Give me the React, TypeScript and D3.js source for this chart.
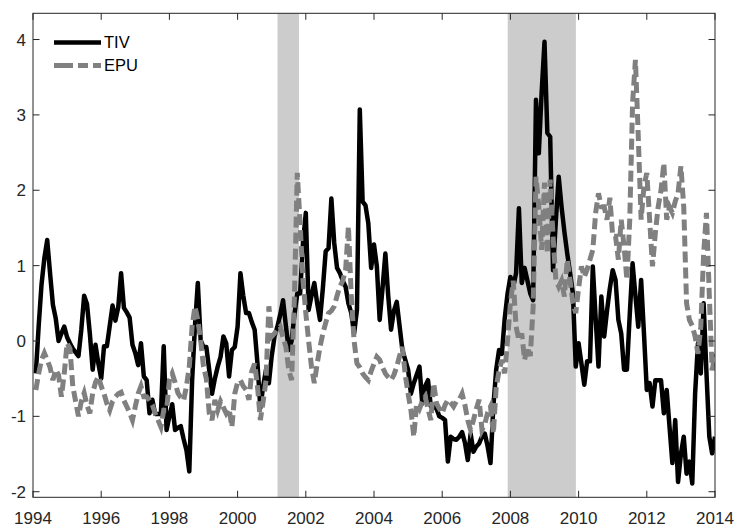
import React from "react";
import * as d3 from "d3";

// monthly observations, Jan 1994 .. Dec 2013 (12 per row)
const tivValues = [
  -0.43, 0.2, 0.75, 1.1, 1.34, 0.9, 0.48, 0.3, 0.0, 0.1, 0.19, 0.05,
  -0.03, -0.1, -0.15, -0.2, 0.15, 0.6, 0.49, 0.1, -0.38, -0.05, -0.3, -0.5,
  -0.07, -0.07, 0.2, 0.47, 0.27, 0.45, 0.9, 0.44, 0.38, 0.31, -0.05, -0.16,
  -0.32, -0.03, -0.47, -0.52, -0.96, -0.78, -0.97, -0.97, -0.97, -0.07, -1.18, -1.0,
  -0.84, -1.18, -1.15, -1.13, -1.3, -1.45, -1.73, -0.52, 0.2, 0.77, 0.01, -0.08,
  -0.08, -0.38, -0.7, -0.5, -0.34, -0.21, 0.06, -0.03, -0.47, -0.12, -0.08, 0.19,
  0.9, 0.6, 0.37, 0.37, 0.25, 0.15, -0.3, -0.89, -0.6, -0.38, -0.56, -0.2,
  0.06, 0.19, 0.35, 0.54, 0.2, -0.12, 0.0, 0.35, 0.63, 0.63, 1.3, 1.7,
  0.41, 0.6, 0.77, 0.5, 0.28, 0.7, 1.19, 1.23, 1.89, 1.3, 0.97, 0.9,
  0.8, 0.72, 0.5, 0.37, 0.1, 0.41, 3.07, 1.85, 1.8, 1.56, 0.97, 1.28,
  0.99, 0.28, 0.7, 1.16, 0.6, 0.15, 0.4, 0.52, 0.2, -0.12, -0.25, -0.38,
  -0.7, -0.56, -0.45, -0.34, -0.83, -0.6, -0.52, -0.87, -0.87, -0.9, -1.0, -1.02,
  -1.05, -1.6, -1.27, -1.3, -1.31, -1.27, -1.21, -1.35, -1.58, -1.23, -1.47, -1.4,
  -1.36, -1.27, -1.23, -1.4, -1.62, -0.87, -0.38, -0.12, -0.17, 0.3, 0.63, 0.85,
  0.72, 0.9, 1.76, 0.77, 0.97, 0.8, 0.63, 0.54, 3.2, 2.49, 3.3, 3.97,
  2.76, 2.71, 0.94, 1.6, 2.18, 1.78, 1.45, 1.16, 0.9, 0.63, -0.34, -0.03,
  -0.3, -0.58, -0.27, -0.27, 0.99, 0.3, -0.34, 0.59, 0.06, 0.4, 0.7, 0.94,
  0.81, 0.28, 0.1, -0.38, -0.38, 0.35, 1.03, 0.6, 0.19, 0.81, 0.1, -0.65,
  -0.56, -0.87, -0.52, -0.52, -0.52, -0.96, -0.65, -1.14, -1.62, -1.05, -1.87, -1.5,
  -1.27, -1.76, -1.6, -1.89, -0.7, -0.03, -0.43, 0.5, -0.43, -1.27, -1.49, -1.27,
];

const epuValues = [
  -0.65, -0.43, -0.25, -0.16, -0.25, -0.35, -0.52, -0.38, -0.45, -0.74, -0.43, -0.03,
  -0.1, -0.6, -0.8, -1.0, -0.8, -0.69, -0.85, -0.96, -0.69, -0.55, -0.47, -0.6,
  -0.7, -0.83, -0.92, -0.8, -0.74, -0.7, -0.68, -0.79, -0.87, -0.95, -1.05, -0.87,
  -0.7, -0.6, -0.74, -0.74, -0.79, -0.85, -0.96, -1.05, -1.14, -0.92, -0.92, -0.52,
  -0.43, -0.55, -0.69, -0.75, -0.79, -0.6, -0.34, 0.2, 0.46, 0.28, 0.01, -0.34,
  -0.5, -0.95, -1.05, -0.78, -0.92, -0.8, -0.88, -0.96, -0.9, -1.14, -0.7, -0.55,
  -0.52, -0.6, -0.65, -0.78, -0.4, -0.3, -0.6, -1.05, -0.8, -0.52, 0.46, 0.06,
  0.1, 0.15, 0.19, 0.05, -0.08, -0.38, -0.52, 0.59, 2.23, 1.56, 0.81, 0.37,
  0.0, -0.34, -0.56, -0.3, -0.08, 0.1, 0.24, 0.37, 0.4, 0.46, 0.6, 0.72,
  0.8, 0.94, 1.52, 0.59, 0.0, -0.3, -0.35, -0.43, -0.48, -0.52, -0.4, -0.3,
  -0.21, -0.25, -0.35, -0.43, -0.48, -0.52, -0.45, -0.34, -0.2, -0.08, -0.45, -0.7,
  -0.92, -1.27, -0.83, -0.9, -0.8, -0.74, -0.9, -1.05, -0.56, -0.83, -0.9, -0.96,
  -0.85, -0.78, -0.82, -0.87, -0.8, -0.78, -0.7, -0.85, -1.05, -1.18, -1.05, -0.9,
  -0.78, -1.18, -1.1, -0.95, -0.87, -1.23, -0.61, -0.4, -0.25, -0.43, 0.01, 0.5,
  0.8, 0.19, 0.01, 0.1, -0.25, -0.08, -0.2, 0.45, 2.18, 1.78, 1.21, 2.1,
  1.16, 2.14, 1.39, 0.81, 0.72, 0.8, 0.59, 1.08, 0.8, 0.5, 0.37, 0.7,
  0.99, 0.85, 0.95, 1.08, 1.21, 1.7, 1.96, 1.78, 1.78, 1.61, 1.9, 1.39,
  1.39, 1.08, 1.61, 1.25, 0.81, 1.61, 3.16, 3.73, 2.71, 1.61, 2.05, 2.23,
  1.61, 0.99, 1.43, 1.78, 2.0, 2.36, 1.61, 1.78, 1.7, 1.85, 1.96, 2.32,
  1.78, 0.5, 0.28, 0.2, 0.06, -0.17, 0.19, 1.16, 1.7, 0.6, -0.39, -0.17,
];

const startYear = 1994;
const recessions = [
  [2001.17, 2001.8],
  [2007.92, 2009.92],
];
const xTicks = [1994, 1996, 1998, 2000, 2002, 2004, 2006, 2008, 2010, 2012, 2014];
const yTicks = [-2, -1, 0, 1, 2, 3, 4];
const seriesNames = ["TIV", "EPU"];

const W = 737;
const H = 527;
const margin = { top: 13.3, right: 22, bottom: 29.7, left: 33 };
const axisColor = "#262626";
const font = "'Liberation Sans', Arial, Helvetica, sans-serif";

const App = () => {
  const x = d3
    .scaleLinear()
    .domain([1994, 2014])
    .range([margin.left, W - margin.right]);
  const y = d3
    .scaleLinear()
    .domain([-2.074, 4.348])
    .range([H - margin.bottom, margin.top]);

  const dateOf = (i: number) => startYear + (i + 1) / 12;
  const line = d3
    .line<number>()
    .x((d, i) => x(dateOf(i)))
    .y((d) => y(d));

  const x0 = x.range()[0];
  const x1 = x.range()[1];
  const y0 = y.range()[0];
  const y1 = y.range()[1];
  const tick = 6.5;

  return (
    <svg
      width={W}
      height={H}
      style={{ position: "absolute", left: 0, top: 0, background: "#fff" }}
    >
      <defs>
        <clipPath id="plot">
          <rect x={x0} y={y1} width={x1 - x0} height={y0 - y1} />
        </clipPath>
      </defs>
      <rect x={0} y={0} width={W} height={H} fill="#fff" />

      {recessions.map((r, i) => (
        <rect
          key={i}
          x={x(r[0])}
          y={y1}
          width={x(r[1]) - x(r[0])}
          height={y0 - y1}
          fill="#cccccc"
        />
      ))}

      <g clipPath="url(#plot)">
        <path
          d={line(tivValues) || ""}
          fill="none"
          stroke="#000"
          strokeWidth={4.5}
          strokeLinejoin="round"
        />
        <path
          d={line(epuValues) || ""}
          fill="none"
          stroke="#808080"
          strokeWidth={5}
          strokeDasharray="11,5"
          strokeLinejoin="miter"
        />
      </g>

      {/* box */}
      <rect
        x={x0}
        y={y1}
        width={x1 - x0}
        height={y0 - y1}
        fill="none"
        stroke={axisColor}
        strokeWidth={1}
      />

      {xTicks.map((t) => (
        <g key={t}>
          <line x1={x(t)} x2={x(t)} y1={y0} y2={y0 - tick} stroke={axisColor} />
          <line x1={x(t)} x2={x(t)} y1={y1} y2={y1 + tick} stroke={axisColor} />
          <text
            x={x(t)}
            y={y0 + 26.5}
            textAnchor="middle"
            fontFamily={font}
            fontSize={17}
            fill={axisColor}
          >
            {t}
          </text>
        </g>
      ))}

      {yTicks.map((t) => (
        <g key={t}>
          <line x1={x0} x2={x0 + tick} y1={y(t)} y2={y(t)} stroke={axisColor} />
          <line x1={x1} x2={x1 - tick} y1={y(t)} y2={y(t)} stroke={axisColor} />
          <text
            x={x0 - 7}
            y={y(t)}
            dy="0.36em"
            textAnchor="end"
            fontFamily={font}
            fontSize={17}
            fill={axisColor}
          >
            {t}
          </text>
        </g>
      ))}

      {/* legend */}
      <g fontFamily={font} fontSize={16.5} fill="#000">
        <line x1={54} x2={101} y1={42.5} y2={42.5} stroke="#000" strokeWidth={4.5} />
        <text x={104} y={42.5} dy="0.36em">
          {seriesNames[0]}
        </text>
        <line
          x1={54}
          x2={101}
          y1={65.5}
          y2={65.5}
          stroke="#808080"
          strokeWidth={5}
          strokeDasharray="19,5,10,5"
        />
        <text x={104} y={65.5} dy="0.36em">
          {seriesNames[1]}
        </text>
      </g>
    </svg>
  );
};

export default App;
